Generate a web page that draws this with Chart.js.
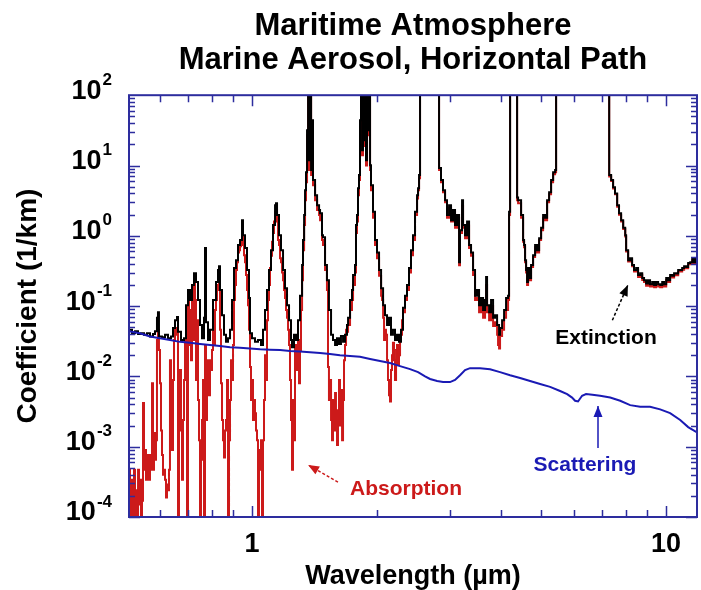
<!DOCTYPE html>
<html>
<head>
<meta charset="utf-8">
<script src="https://cdn.jsdelivr.net/npm/chart.js"></script>
<style>
  html, body { margin: 0; padding: 0; background: #fff; }
  #wrap { width: 701px; height: 590px; }
</style>
</head>
<body>
<div id="wrap"><canvas id="spectrum" width="701" height="590"></canvas></div>
<script>
// wavelength in micrometres, coefficients in 1/km
const extWavelength = [0.5045,0.513,0.5217,0.5305,0.5394,0.5484,0.5576,0.567,0.5765,0.5829,0.5894,0.5927,0.596,0.6061,0.6163,0.6266,0.6372,0.6443,0.6516,0.6589,0.6625,0.6737,0.685,0.6927,0.7004,0.7082,0.7162,0.7242,0.7323,0.7405,0.7487,0.7571,0.7656,0.7698,0.7741,0.7828,0.7916,0.8049,0.8185,0.8277,0.8323,0.837,0.8463,0.8558,0.8654,0.8751,0.8849,0.8948,0.9048,0.9148,0.9251,0.9354,0.9459,0.9512,0.9618,0.9726,0.9835,0.9889,1.0,1.0168,1.0339,1.0513,1.0631,1.075,1.087,1.0992,1.1115,1.1239,1.1366,1.1429,1.1493,1.1621,1.1751,1.1883,1.2015,1.215,1.2286,1.2423,1.2492,1.2632,1.2773,1.2916,1.306,1.321,1.328,1.336,1.343,1.35,1.358,1.366,1.373,1.381,1.389,1.396,1.404,1.42,1.436,1.452,1.46,1.476,1.484,1.501,1.517,1.534,1.552,1.569,1.587,1.604,1.622,1.64,1.659,1.677,1.696,1.706,1.725,1.744,1.754,1.773,1.783,1.793,1.803,1.813,1.823,1.833,1.844,1.854,1.864,1.875,1.885,1.896,1.906,1.917,1.928,1.938,1.96,1.982,2.004,2.027,2.05,2.073,2.095,2.119,2.142,2.166,2.19,2.215,2.24,2.265,2.29,2.316,2.342,2.368,2.394,2.421,2.448,2.476,2.504,2.518,2.532,2.546,2.692,2.814,2.83,2.861,2.893,2.926,2.958,2.992,3.025,3.059,3.093,3.128,3.163,3.18,3.216,3.234,3.27,3.307,3.344,3.381,3.419,3.457,3.496,3.535,3.575,3.615,3.655,3.676,3.696,3.738,3.779,3.822,3.864,3.908,3.951,3.973,4.018,4.063,4.108,4.154,4.177,4.201,4.343,4.368,4.392,4.466,4.516,4.541,4.566,4.592,4.617,4.643,4.669,4.721,4.774,4.828,4.882,4.937,4.992,5.048,5.104,5.161,5.219,5.277,5.337,5.396,5.426,6.5,7.25,7.29,7.37,7.45,7.53,7.62,7.7,7.79,7.88,7.97,8.01,8.1,8.19,8.28,8.37,8.47,8.56,8.66,8.76,8.85,8.95,9.05,9.15,9.26,9.36,9.46,9.57,9.68,9.79,9.89,10.01,10.12,10.23,10.35,10.46,10.58,10.7,10.82,10.94,11.06,11.19,11.31,11.44,11.57,11.7,11.83,11.88];
const extinction = [0.046,0.041,0.044,0.040,0.041,0.039,0.041,0.037,0.040,0.044,0.068,0.082,0.037,0.036,0.039,0.035,0.037,0.049,0.063,0.070,0.043,0.033,0.035,0.103,0.169,0.122,0.199,0.294,0.22,0.122,0.054,0.035,0.068,0.67,0.059,0.033,0.046,0.122,0.22,0.325,0.37,0.169,0.074,0.039,0.031,0.035,0.046,0.122,0.347,0.45,0.74,0.87,1.67,1.02,0.67,0.325,0.13,0.041,0.035,0.031,0.033,0.028,0.046,0.088,0.169,0.325,0.625,1.42,2.73,2.91,1.97,1.02,0.625,0.325,0.18,0.103,0.063,0.033,0.026,0.039,0.033,0.063,0.14,0.383,0.87,1.97,4.46,8.0,31.8,150,11.9,150,8.6,44,6.2,3.78,2.73,2.32,2.1,1.02,0.95,0.383,0.234,0.088,0.039,0.033,0.028,0.035,0.029,0.0375,0.031,0.039,0.054,0.068,0.122,0.169,0.276,0.383,1.42,1.97,4.76,7.3,44,150,16.5,150,22.9,150,11.9,150,31.8,150,10.1,5.25,2.2,0.87,0.58,0.325,0.18,0.103,0.074,0.054,0.068,0.039,0.046,0.033,0.039,0.031,0.046,0.095,0.14,0.2,0.347,0.625,1.02,2.2,3.78,4.76,7.3,200,300,200,9.2,6.2,4.46,3.21,1.97,2.73,1.67,2.32,1.42,1.97,0.42,1.2,3.21,1.42,1.02,1.6,0.74,0.58,0.325,0.14,0.169,0.103,0.13,0.088,0.122,0.26,0.103,0.082,0.122,0.068,0.074,0.054,0.039,0.049,0.063,0.088,0.13,0.14,2.2,200,200,3.5,3.21,1.97,0.87,0.74,0.45,0.325,0.22,0.347,0.25,0.383,0.53,0.74,0.625,0.92,1.3,1.97,1.8,3.21,4.18,6.2,8.0,8.6,200,300,200,7.3,6.2,4.9,4.0,2.73,2.1,1.67,1.3,1.02,0.625,0.45,0.48,0.383,0.325,0.347,0.276,0.294,0.25,0.234,0.21,0.234,0.205,0.22,0.199,0.22,0.205,0.199,0.22,0.205,0.25,0.234,0.276,0.27,0.294,0.29,0.325,0.325,0.347,0.37,0.36,0.41,0.42,0.47,0.42,0.47,0.45];

const absWavelength = [0.5045,0.5073,0.5101,0.513,0.5158,0.5187,0.5217,0.5246,0.5275,0.5305,0.5334,0.5364,0.5394,0.5424,0.5454,0.5484,0.5514,0.5545,0.5576,0.5607,0.5638,0.567,0.5701,0.5733,0.5765,0.5797,0.5829,0.5862,0.5894,0.5927,0.596,0.5994,0.6027,0.6061,0.6095,0.6129,0.6163,0.6197,0.6232,0.6266,0.6301,0.6336,0.6372,0.6407,0.6443,0.6479,0.6516,0.6552,0.6589,0.6625,0.6662,0.6699,0.6737,0.6774,0.6812,0.685,0.6888,0.6927,0.6965,0.7004,0.7043,0.7082,0.7122,0.7162,0.7202,0.7242,0.7282,0.7323,0.7364,0.7405,0.7446,0.7487,0.7529,0.7571,0.7613,0.7656,0.7698,0.7741,0.7784,0.7828,0.7872,0.7916,0.796,0.8004,0.8049,0.8094,0.814,0.8185,0.8231,0.8277,0.8323,0.837,0.8416,0.8463,0.8511,0.8558,0.8606,0.8654,0.8702,0.8751,0.88,0.8849,0.8898,0.8948,0.8998,0.9048,0.9097,0.9148,0.9199,0.9251,0.9302,0.9354,0.9406,0.9459,0.9512,0.9565,0.9618,0.9672,0.9726,0.978,0.9835,0.9889,0.9945,1.0,1.0056,1.0112,1.0168,1.0225,1.0282,1.0339,1.0397,1.0455,1.0513,1.0572,1.0631,1.069,1.075,1.081,1.087,1.0931,1.0992,1.1053,1.1115,1.1177,1.1239,1.1302,1.1366,1.1429,1.1493,1.1557,1.1621,1.1686,1.1751,1.1817,1.1883,1.1949,1.2015,1.2082,1.215,1.2218,1.2286,1.2354,1.2423,1.2492,1.2562,1.2632,1.2702,1.2773,1.2844,1.2916,1.2988,1.306,1.3133,1.321,1.328,1.336,1.343,1.35,1.358,1.366,1.373,1.381,1.389,1.396,1.404,1.42,1.436,1.452,1.46,1.476,1.484,1.501,1.517,1.526,1.534,1.543,1.552,1.56,1.569,1.578,1.587,1.595,1.604,1.613,1.622,1.631,1.64,1.65,1.659,1.668,1.677,1.687,1.696,1.706,1.725,1.744,1.754,1.773,1.783,1.793,1.803,1.813,1.823,1.833,1.844,1.854,1.864,1.875,1.885,1.896,1.906,1.917,1.928,1.938,1.96,1.982,2.004,2.027,2.05,2.061,2.073,2.084,2.095,2.107,2.119,2.13,2.142,2.154,2.166,2.178,2.19,2.203,2.215,2.228,2.24,2.253,2.265,2.278,2.29,2.303,2.316,2.342,2.368,2.394,2.421,2.448,2.476,2.504,2.518,2.532,2.546,2.692,2.814,2.83,2.861,2.893,2.926,2.958,2.992,3.025,3.059,3.093,3.128,3.163,3.18,3.216,3.234,3.27,3.307,3.344,3.381,3.419,3.457,3.496,3.535,3.575,3.615,3.655,3.676,3.696,3.738,3.779,3.822,3.864,3.908,3.929,3.951,3.973,4.018,4.063,4.108,4.154,4.177,4.201,4.343,4.368,4.392,4.466,4.516,4.541,4.566,4.592,4.617,4.643,4.669,4.721,4.774,4.828,4.882,4.937,4.992,5.048,5.104,5.161,5.219,5.277,5.337,5.396,5.426,6.5,7.25,7.29,7.37,7.45,7.53,7.62,7.7,7.79,7.88,7.97,8.01,8.1,8.19,8.28,8.37,8.47,8.56,8.66,8.76,8.85,8.95,9.05,9.15,9.26,9.36,9.46,9.57,9.68,9.79,9.89,10.01,10.12,10.23,10.35,10.46,10.58,10.7,10.82,10.94,11.06,11.19,11.31,11.44,11.57,11.7,11.83,11.88];
const absorption = [0.00047,0.00006,0.00034,0.00015,0.00005,0.00047,0.00007,0.00024,0.00005,0.00047,0.00015,0.00034,0.00008,0.00017,0.0042,0.00047,0.0009,0.00034,0.00076,0.00047,0.00034,0.00076,0.00047,0.008,0.00047,0.00156,0.00065,0.00124,0.033,0.046,0.0237,0.008,0.0017,0.00076,0.0004,0.00047,0.00034,0.00019,0.00029,0.00024,0.00047,0.017,0.0024,0.0009,0.0089,0.033,0.046,0.039,0.049,0.00008,0.0046,0.0123,0.0017,0.00034,0.0024,0.0089,0.033,0.055,0.00008,0.122,0.028,0.088,0.017,0.16,0.033,0.234,0.122,0.0089,0.063,0.0046,0.00124,0.00008,0.00065,0.0024,0.0089,0.00008,0.028,0.0024,0.017,0.0089,0.0054,0.017,0.0123,0.0237,0.046,0.028,0.088,0.122,0.199,0.169,0.276,0.046,0.008,0.0024,0.00124,0.0007,0.0017,0.0024,0.0089,0.00008,0.00124,0.0046,0.017,0.0089,0.028,0.122,0.199,0.325,0.42,0.58,0.625,0.71,0.74,1.1,0.74,0.53,0.42,0.276,0.169,0.103,0.046,0.0136,0.0046,0.0089,0.0024,0.0046,0.003,0.0017,0.00124,0.00008,0.0009,0.00047,0.00124,0.00008,0.00124,0.0046,0.02,0.0089,0.063,0.122,0.199,0.347,0.52,0.82,1.1,1.6,2.2,2.32,1.6,0.87,0.74,0.48,0.42,0.3,0.234,0.169,0.13,0.088,0.068,0.046,0.028,0.0089,0.0024,0.00047,0.0046,0.00124,0.028,0.0123,0.017,0.033,0.008,0.0237,0.088,0.234,0.625,1.42,3.21,5.8,27,150,8.6,150,7.3,37,5.25,3.21,2.32,1.97,1.67,0.87,0.74,0.325,0.169,0.0136,0.0046,0.0089,0.0024,0.00124,0.0046,0.0017,0.0058,0.0024,0.00106,0.0033,0.0089,0.002,0.0064,0.00124,0.0046,0.017,0.028,0.046,0.043,0.054,0.088,0.122,0.199,0.3,1.1,1.6,3.78,6.2,37,150,14,150,19,150,10,150,27,150,8.6,4.46,1.8,0.74,0.48,0.27,0.14,0.122,0.068,0.033,0.046,0.039,0.017,0.0089,0.0054,0.0044,0.0123,0.02,0.03,0.017,0.0089,0.0237,0.028,0.0145,0.02,0.033,0.039,0.063,0.082,0.122,0.169,0.3,0.53,0.87,1.97,3.4,4.46,6.6,200,300,200,8.6,5.8,4.18,3.0,1.8,2.5,1.6,2.2,1.3,1.8,0.38,1.1,2.7,1.3,0.92,1.4,0.67,0.52,0.276,0.122,0.13,0.082,0.103,0.068,0.095,0.199,0.082,0.063,0.1,0.052,0.059,0.039,0.028,0.025,0.0375,0.046,0.068,0.088,0.122,1.97,200,200,3.2,2.9,1.8,0.82,0.69,0.42,0.3,0.2,0.325,0.234,0.36,0.5,0.69,0.58,0.87,1.2,1.8,1.67,3.0,3.9,5.8,7.5,8.0,200,300,200,7.0,6.0,4.7,3.9,2.6,2.0,1.6,1.25,0.98,0.6,0.43,0.46,0.37,0.31,0.33,0.26,0.28,0.235,0.22,0.195,0.22,0.19,0.205,0.185,0.205,0.19,0.185,0.205,0.19,0.235,0.22,0.26,0.255,0.28,0.275,0.31,0.31,0.33,0.355,0.345,0.395,0.405,0.455,0.405,0.455,0.435];

const scatWavelength = [0.5045,0.536,0.567,0.599,0.634,0.67,0.708,0.749,0.792,0.837,0.885,0.935,0.989,1.046,1.105,1.169,1.235,1.306,1.381,1.46,1.543,1.631,1.725,1.823,1.928,2.038,2.154,2.278,2.408,2.518,2.618,2.692,2.8,2.893,3.008,3.093,3.18,3.27,3.362,3.555,3.758,3.973,4.201,4.441,4.695,4.964,5.248,5.548,5.77,5.93,6.03,6.13,6.27,6.41,6.64,6.93,7.33,7.75,8.19,8.66,9.15,9.68,10.23,10.82,11.31,11.88];
const scattering = [0.044,0.041,0.037,0.035,0.033,0.031,0.030,0.029,0.028,0.027,0.026,0.0255,0.025,0.0243,0.024,0.0237,0.023,0.0226,0.022,0.0215,0.0208,0.020,0.0195,0.019,0.0177,0.0166,0.0155,0.014,0.0127,0.0115,0.010,0.0092,0.0086,0.0083,0.0083,0.0089,0.0104,0.0123,0.0131,0.0131,0.0126,0.0115,0.0104,0.0095,0.0086,0.0078,0.0071,0.0062,0.0056,0.0050,0.0045,0.0044,0.0053,0.0056,0.0055,0.0053,0.0050,0.0045,0.0039,0.0037,0.0037,0.0034,0.0030,0.0024,0.0019,0.0016];

const xTickLabels = [1, 10];
const yExponents = [-4, -3, -2, -1, 0, 1, 2];

// label anchors in data units: [wavelength, coefficient]
const notes = [
  { text: 'Extinction', color: '#000000', at: [7.16, 0.035], from: [7.42, 0.063], to: [8.09, 0.2], dash: [3, 2] },
  { text: 'Scattering', color: '#1a1ab4', at: [6.37, 0.00055], from: [6.85, 0.00096], to: [6.85, 0.0038], dash: [] },
  { text: 'Absorption', color: '#cc1a1a', at: [2.355, 0.00025], from: [1.613, 0.000314], to: [1.366, 0.00055], dash: [3, 2] }
];

const frameColor = '#2d2d9e';
const fontFamily = '"Liberation Sans", Arial, Helvetica, sans-serif';

function pairs(xs, ys) {
  return xs.map((v, i) => ({ x: v, y: ys[i] }));
}

const framePlugin = {
  id: 'frame',
  afterDraw(chart) {
    const { ctx, chartArea: a, scales: { x, y } } = chart;
    ctx.save();

    // tick marks pointing inward on all four sides
    ctx.strokeStyle = frameColor;
    ctx.lineWidth = 1.5;
    ctx.beginPath();
    for (let e = -4; e <= 1; e++) {
      for (let m = 1; m <= 9; m++) {
        const py = Math.round(y.getPixelForValue(m * Math.pow(10, e))) + 0.5;
        const len = m === 1 ? 11 : 6;
        ctx.moveTo(a.left, py); ctx.lineTo(a.left + len, py);
        ctx.moveTo(a.right, py); ctx.lineTo(a.right - len, py);
      }
    }
    for (let e = -1; e <= 1; e++) {
      for (let m = 1; m <= 9; m++) {
        const v = m * Math.pow(10, e);
        if (v < x.min || v > x.max) continue;
        const px = Math.round(x.getPixelForValue(v)) + 0.5;
        const len = m === 1 ? 11 : 7;
        ctx.moveTo(px, a.bottom); ctx.lineTo(px, a.bottom - len);
        ctx.moveTo(px, a.top); ctx.lineTo(px, a.top + len);
      }
    }
    ctx.stroke();

    ctx.lineWidth = 2;
    ctx.strokeRect(a.left, a.top, a.right - a.left, a.bottom - a.top);

    // y tick labels as 10 with a raised exponent
    ctx.fillStyle = '#000';
    ctx.textBaseline = 'middle';
    yExponents.forEach(ex => {
      const py = y.getPixelForValue(Math.pow(10, ex));
      ctx.font = 'bold 17px ' + fontFamily;
      const expText = String(ex);
      const ew = ctx.measureText(expText).width;
      const right = 112;
      ctx.textAlign = 'left';
      ctx.fillText(expText, right - ew, py - 15);
      ctx.font = 'bold 27px ' + fontFamily;
      ctx.textAlign = 'right';
      ctx.fillText('10', right - ew - 1, py - 4);
    });

    // x tick labels
    ctx.font = 'bold 27px ' + fontFamily;
    ctx.textAlign = 'center';
    xTickLabels.forEach(v => {
      ctx.fillText(String(v), x.getPixelForValue(v), a.bottom + 28);
    });

    // annotations with arrows
    notes.forEach(n => {
      const fx = x.getPixelForValue(n.from[0]), fy = y.getPixelForValue(n.from[1]);
      const tx = x.getPixelForValue(n.to[0]), ty = y.getPixelForValue(n.to[1]);
      ctx.strokeStyle = n.color;
      ctx.fillStyle = n.color;
      ctx.lineWidth = 1.5;
      ctx.setLineDash(n.dash);
      ctx.beginPath();
      ctx.moveTo(fx, fy);
      ctx.lineTo(tx, ty);
      ctx.stroke();
      ctx.setLineDash([]);
      const ang = Math.atan2(ty - fy, tx - fx);
      const hl = 11, hw = 4.5;
      ctx.beginPath();
      ctx.moveTo(tx, ty);
      ctx.lineTo(tx - hl * Math.cos(ang) + hw * Math.sin(ang), ty - hl * Math.sin(ang) - hw * Math.cos(ang));
      ctx.lineTo(tx - hl * Math.cos(ang) - hw * Math.sin(ang), ty - hl * Math.sin(ang) + hw * Math.cos(ang));
      ctx.closePath();
      ctx.fill();
      ctx.font = 'bold 21px ' + fontFamily;
      ctx.textAlign = 'center';
      ctx.textBaseline = 'middle';
      ctx.fillText(n.text, x.getPixelForValue(n.at[0]), y.getPixelForValue(n.at[1]));
    });

    ctx.restore();
  }
};

new Chart(document.getElementById('spectrum'), {
  type: 'line',
  data: {
    datasets: [
      {
        label: 'Scattering',
        data: pairs(scatWavelength, scattering),
        borderColor: '#1a1ab4',
        borderWidth: 2,
        pointRadius: 0,
        stepped: false
      },
      {
        label: 'Extinction',
        data: pairs(extWavelength, extinction),
        borderColor: '#000000',
        borderWidth: 2,
        pointRadius: 0,
        stepped: true
      },
      {
        label: 'Absorption',
        data: pairs(absWavelength, absorption),
        borderColor: '#cc1a1a',
        borderWidth: 2,
        pointRadius: 0,
        stepped: true
      }
    ]
  },
  options: {
    responsive: false,
    animation: false,
    devicePixelRatio: 1,
    layout: { padding: { left: 0, right: 4, top: 0, bottom: 0 } },
    scales: {
      x: {
        type: 'logarithmic',
        min: 0.5045,
        max: 11.88,
        grid: { display: false },
        border: { display: false },
        ticks: { display: false },
        title: {
          display: true,
          text: 'Wavelength (\u00b5m)',
          color: '#000',
          font: { family: fontFamily, size: 27, weight: 'bold', lineHeight: 1 },
          padding: 0
        },
        afterFit: s => { s.height = 73; }
      },
      y: {
        type: 'logarithmic',
        min: 1e-4,
        max: 100,
        grid: { display: false },
        border: { display: false },
        ticks: { display: false },
        title: {
          display: true,
          text: 'Coefficient (1/km)',
          color: '#000',
          font: { family: fontFamily, size: 28, weight: 'bold', lineHeight: 1 },
          padding: { top: 14, bottom: 0 }
        },
        afterFit: s => { s.width = 129; }
      }
    },
    plugins: {
      legend: { display: false },
      tooltip: { enabled: false },
      title: {
        display: true,
        fullSize: false,
        text: ['Maritime Atmosphere', 'Marine Aerosol, Horizontal Path'],
        color: '#000',
        font: { family: fontFamily, size: 31, weight: 'bold', lineHeight: 1.1 },
        padding: { top: 9, bottom: 18 }
      }
    }
  },
  plugins: [framePlugin]
});
</script>
</body>
</html>
